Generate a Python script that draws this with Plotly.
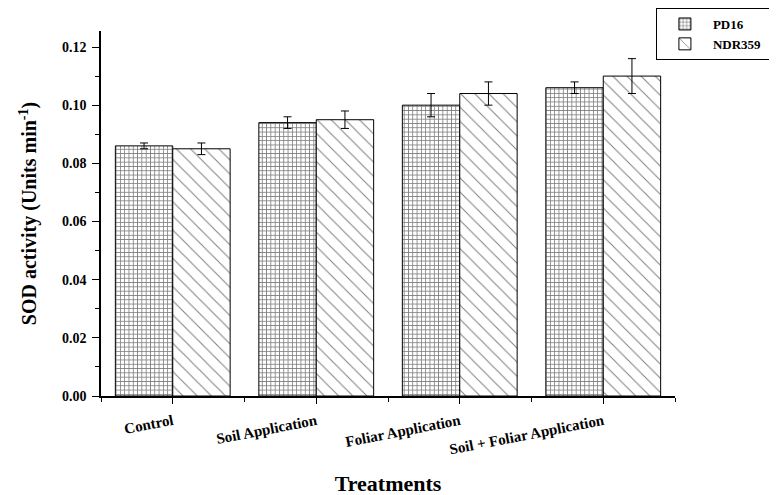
import plotly.graph_objects as go

categories = ["Control", "Soil Application", "Foliar Application", "Soil + Foliar Application"]
pd16 = [0.086, 0.094, 0.100, 0.106]
pd16_err = [0.001, 0.002, 0.004, 0.002]
ndr359 = [0.085, 0.095, 0.104, 0.110]
ndr359_err = [0.002, 0.003, 0.004, 0.006]
yticks = [0.00, 0.02, 0.04, 0.06, 0.08, 0.10, 0.12]
series_names = ["PD16", "NDR359"]

FONT = "Liberation Serif"
PAD = "&nbsp;" * 5

fig = go.Figure()
fig.add_trace(go.Bar(
    name="<b>%s</b>%s" % (series_names[0], PAD), x=categories, y=pd16,
    error_y=dict(type="data", array=pd16_err, color="black", thickness=1, width=4),
    marker=dict(color="white", line=dict(color="black", width=1),
                pattern=dict(shape="+", size=4.3, solidity=0.35, fgcolor="black", bgcolor="white")),
))
fig.add_trace(go.Bar(
    name="<b>%s</b>%s" % (series_names[1], PAD), x=categories, y=ndr359,
    error_y=dict(type="data", array=ndr359_err, color="black", thickness=1, width=4),
    marker=dict(color="white", line=dict(color="black", width=1),
                pattern=dict(shape="\\", size=10, solidity=0.1, fgcolor="black", bgcolor="white")),
))

fig.update_layout(
    width=777, height=495,
    barmode="group", bargap=0.2, bargroupgap=0,
    plot_bgcolor="white", paper_bgcolor="white",
    margin=dict(l=93, r=110, t=23, b=107, autoexpand=False),
    font=dict(family=FONT, color="black", size=14),
    legend=dict(x=1.188, y=1.063, xanchor="right", yanchor="top",
                bordercolor="black", borderwidth=1, bgcolor="white",
                font=dict(family=FONT, size=13, color="black"),
                itemwidth=46, tracegroupgap=2),
    showlegend=True,
)
fig.update_xaxes(
    showline=True, linecolor="black", linewidth=1.5,
    ticks="outside", ticklen=6, tickwidth=1.2, tickcolor="black",
    tickangle=-11, ticklabelstandoff=3,
    tickfont=dict(family=FONT, size=15, color="black"),
    tickvals=categories, ticktext=["<b>%s</b>" % c for c in categories],
    minor=dict(ticks="outside", ticklen=4, tickcolor="black", tickwidth=1.2,
               tickvals=[-0.5, 0.5, 1.5, 2.5, 3.5]),
    range=[-0.5, 3.5], showgrid=False, zeroline=False,
    title=dict(text="<b>Treatments</b>", font=dict(family=FONT, size=22), standoff=19),
)
fig.update_yaxes(
    range=[0, 0.1255],
    showline=True, linecolor="black", linewidth=1.5,
    ticks="outside", ticklen=7, tickwidth=1.2, tickcolor="black",
    ticklabelstandoff=3,
    tickvals=yticks, ticktext=["<b>%.2f</b>" % v for v in yticks],
    tickfont=dict(family=FONT, size=14, color="black"),
    minor=dict(ticks="outside", ticklen=4, tickcolor="black", tickwidth=1.2, dtick=0.01),
    showgrid=False, zeroline=False,
    title=dict(text="<b>SOD activity (Units min<sup>-1</sup>)</b>", font=dict(family=FONT, size=20), standoff=20),
)

fig.write_html("out.html")
